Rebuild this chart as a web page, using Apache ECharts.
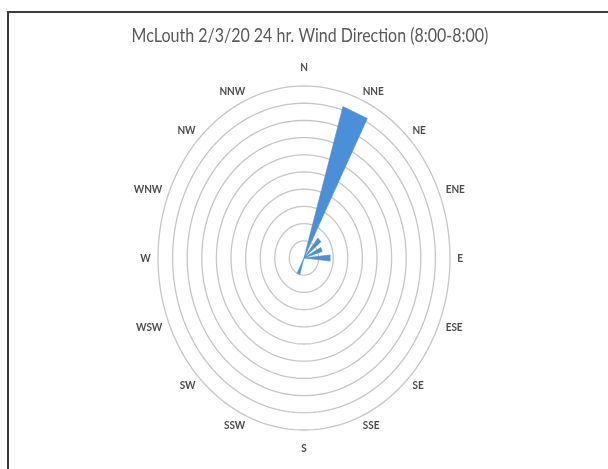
<!DOCTYPE html>
<html>
<head>
<meta charset="utf-8">
<script src="https://cdn.jsdelivr.net/npm/echarts@6/dist/echarts.min.js"></script>
<style>
  html, body { margin: 0; padding: 0; background: #fff; overflow: hidden; }
  #chart { width: 608px; height: 469px; }
</style>
</head>
<body>
<div id="chart"></div>
<script>
// Wind rose: share of readings per compass direction, drawn on an elliptical frame.
const titleText = 'McLouth 2/3/20 24 hr. Wind Direction (8:00-8:00)';
const directions = ['N', 'NNE', 'NE', 'ENE', 'E', 'ESE', 'SE', 'SSE',
                    'S', 'SSW', 'SW', 'WSW', 'W', 'WNW', 'NW', 'NNW'];
const windValues = [0, 9.2, 1.5, 1.3, 1.8, 0, 0, 0,
                    0, 1.0, 0, 0, 0, 0, 0, 0];
const ringValues = [1, 2, 3, 4, 5, 6, 7, 8, 9, 10];

const STEP = 360 / directions.length;   // degrees between compass points
const HALF_WEDGE = STEP / 4;            // half opening of each filled wedge
const LABEL_RADIUS = 10.5;              // label anchor, in value units
const TEXT_STRETCH = 1.15;              // tall, narrow lettering

const GRID = { left: 158, top: 86, width: 292, height: 344 };

// value/bearing -> data coordinates (bearing clockwise from north)
function toXY(r, deg) {
  const a = deg * Math.PI / 180;
  return [r * Math.sin(a), r * Math.cos(a)];
}

const chart = echarts.init(document.getElementById('chart'), null, { renderer: 'canvas' });

const option = {
  animation: false,
  backgroundColor: '#fff',
  grid: GRID,
  xAxis: { type: 'value', min: -10, max: 10, show: false },
  yAxis: { type: 'value', min: -10, max: 10, show: false },
  graphic: [
    {
      type: 'rect',
      shape: { x: 8, y: 12, width: 800, height: 700 },
      style: { fill: null, stroke: '#3c3c3c', lineWidth: 2 },
      silent: true
    },
    {
      type: 'text',
      x: 310, y: 36,
      scaleY: TEXT_STRETCH,
      style: {
        text: titleText,
        fill: '#595959',
        fontSize: 16,
        fontFamily: 'Lato',
        align: 'center',
        verticalAlign: 'middle'
      }
    }
  ],
  series: [
    {
      // concentric rings
      type: 'custom',
      silent: true,
      data: ringValues.map(v => [v, v]),
      renderItem: function (params, api) {
        const r = api.value(0);
        const pts = [];
        for (let d = 0; d <= 360; d += 2) pts.push(api.coord(toXY(r, d)));
        return {
          type: 'polyline',
          shape: { points: pts },
          style: { stroke: '#c6c6c6', lineWidth: 1.3, fill: null }
        };
      }
    },
    {
      // filled wedges, one per direction
      type: 'custom',
      silent: true,
      data: windValues.map((v, i) => [i, v]),
      renderItem: function (params, api) {
        const v = api.value(1);
        if (!v) return null;
        const bearing = api.value(0) * STEP;
        return {
          type: 'polygon',
          shape: {
            points: [
              api.coord([0, 0]),
              api.coord(toXY(v, bearing - HALF_WEDGE)),
              api.coord(toXY(v, bearing + HALF_WEDGE))
            ]
          },
          style: { fill: '#4a8fd8', stroke: '#4a8fd8', lineWidth: 0.6 }
        };
      }
    },
    {
      // compass point labels
      type: 'custom',
      silent: true,
      data: directions.map((d, i) => [i, 0]),
      renderItem: function (params, api) {
        const i = api.value(0);
        const bearing = i * STEP;
        const a = bearing * Math.PI / 180;
        const s = Math.sin(a), c = Math.cos(a);
        const p = api.coord(toXY(LABEL_RADIUS, bearing));
        let align = 'center', vAlign = 'middle', dy = 0;
        if (Math.abs(s) < 0.1) {
          vAlign = c > 0 ? 'bottom' : 'top';
          dy = c > 0 ? -4 : 4;
        } else {
          align = s > 0 ? 'left' : 'right';
        }
        return {
          type: 'text',
          x: p[0], y: p[1] + dy,
          scaleY: TEXT_STRETCH,
          style: {
            text: directions[i],
            fill: '#4d4d4d',
            fontSize: 10,
            fontWeight: 'bold',
            fontFamily: 'Lato',
            align: align,
            verticalAlign: vAlign
          }
        };
      }
    }
  ]
};

chart.setOption(option);
</script>
</body>
</html>
